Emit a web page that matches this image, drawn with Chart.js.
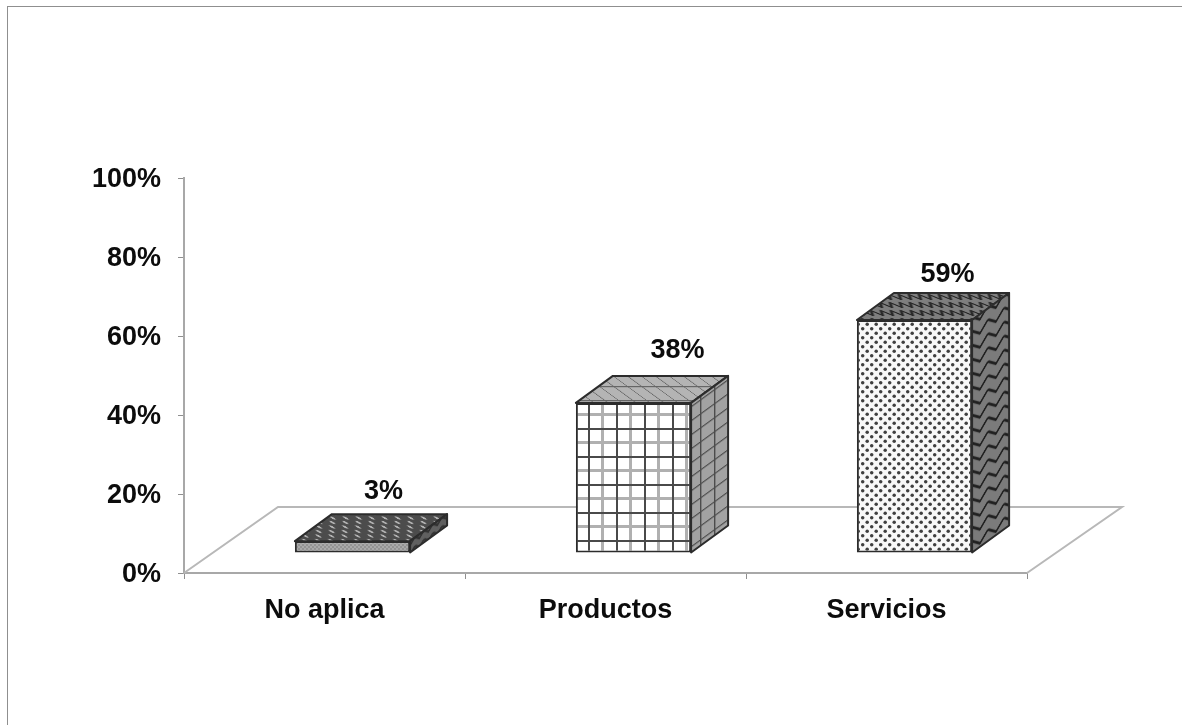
<!DOCTYPE html>
<html lang="es">
<head>
  <meta charset="UTF-8" />
  <title>Gráfica</title>
  <script src="https://cdn.jsdelivr.net/npm/chart.js"></script>
  <style>
    html, body { margin: 0; background: #fff; overflow: hidden; }
    .marco { position: absolute; left: 7px; top: 6px; right: 0; bottom: 0; border-left: 1.5px solid #8f8f8f; border-top: 1.5px solid #8f8f8f; }
    canvas { position: absolute; left: 0; top: 0; filter: blur(0.6px); }
  </style>
</head>
<body>
  <div class="marco"></div>
  <canvas id="grafica" width="1182" height="725" style="width:1182px;height:725px"></canvas>

  <script>
    const categorias = ['No aplica', 'Productos', 'Servicios'];
    const valores = [3, 38, 59];
    const ticksY = [0, 20, 40, 60, 80, 100];

    // small tile used as a hatch fill
    function tile(w, h, fondo, dibujar) {
      const c = document.createElement('canvas');
      c.width = w; c.height = h;
      const g = c.getContext('2d');
      g.fillStyle = fondo;
      g.fillRect(0, 0, w, h);
      dibujar(g);
      return document.createElement('canvas').getContext('2d').createPattern(c, 'repeat');
    }

    function puntos(color, lista, r) {
      return g => {
        g.fillStyle = color;
        lista.forEach(p => { g.beginPath(); g.arc(p[0], p[1], r, 0, 7); g.fill(); });
      };
    }

    function rejilla(fuerte, suave) {
      return g => {
        g.fillStyle = suave;
        g.fillRect(13, 0, 3, 28); g.fillRect(0, 13, 28, 3);
        g.fillStyle = fuerte;
        g.fillRect(0, 0, 2, 28); g.fillRect(0, 0, 28, 2);
      };
    }

    function ondas(color, paso) {
      return g => {
        g.strokeStyle = color; g.lineWidth = 2;
        g.beginPath();
        g.moveTo(0, paso * 0.25); g.lineTo(paso * 0.5, paso * 0.75); g.lineTo(paso, paso * 0.25);
        g.stroke();
      };
    }

    // front faces (one per bar)
    const frentes = [
      tile(4, 4, '#939393', puntos('#d0d0d0', [[1, 1], [3, 3]], 0.7)),
      tile(28, 28, '#ffffff', rejilla('#4a4a4a', '#b0b0b0')),
      tile(9, 9, '#f8f8f8', puntos('#3f3f3f', [[2.2, 2.2], [6.7, 6.7]], 1.75))
    ];
    // top faces
    const techos = [
      tile(13, 9, '#4c4c4c', puntos('#b4b4b4', [[3, 2.5], [9.5, 7]], 1.7)),
      tile(28, 14, '#b4b4b4', g => { g.fillStyle = '#666'; g.fillRect(0, 0, 1.2, 14); g.fillRect(14, 0, 1, 14); g.fillRect(0, 0, 28, 1.2); }),
      tile(10, 8, '#7e7e7e', ondas('#2a2a2a', 10))
    ];
    // side faces
    const lados = [
      tile(9, 9, '#606060', ondas('#333333', 9)),
      tile(14, 14, '#a2a2a2', g => { g.fillStyle = '#4c4c4c'; g.fillRect(0, 0, 1.4, 14); g.fillRect(0, 0, 14, 1.4); }),
      tile(16, 14, '#7b7b7b', ondas('#1e1e1e', 16))
    ];

    const prof = { x: 37, y: -27 };   // depth of the boxes
    const base = { x: 28, y: -20 };   // boxes sit on the floor, not on the axis
    const piso = { x: 94, y: -66 };   // depth of the floor
    const ajusteEtiqueta = [[31, -50], [44, -52], [33, -45]];

    techos.forEach(p => p.setTransform(new DOMMatrix([1, 0, -prof.x / prof.y, 1, 0, 0])));
    lados.forEach(p => p.setTransform(new DOMMatrix([1, prof.y / prof.x, 0, 1, 0, 0])));

    const caja3d = {
      id: 'caja3d',
      beforeDatasetsDraw(chart) {
        const { ctx, chartArea: a } = chart;
        ctx.save();
        ctx.strokeStyle = '#b8b8b8';
        ctx.lineWidth = 2;
        ctx.beginPath();
        ctx.moveTo(a.left, a.bottom);
        ctx.lineTo(a.left + piso.x, a.bottom + piso.y);
        ctx.lineTo(a.right + piso.x + 1, a.bottom + piso.y);
        ctx.lineTo(a.right, a.bottom);
        ctx.stroke();
        ctx.restore();
      },
      beforeDatasetDraw(chart) {
        chart.ctx.save();
        chart.ctx.translate(base.x, base.y);
      },
      afterDatasetDraw(chart) {
        const ctx = chart.ctx;
        chart.getDatasetMeta(0).data.forEach((bar, i) => {
          const izq = bar.x - bar.width / 2, der = bar.x + bar.width / 2;
          ctx.strokeStyle = '#2c2c2c';
          ctx.lineWidth = 2;
          ctx.lineJoin = 'round';
          ctx.beginPath();
          ctx.moveTo(izq, bar.y);
          ctx.lineTo(izq + prof.x, bar.y + prof.y);
          ctx.lineTo(der + prof.x, bar.y + prof.y);
          ctx.lineTo(der, bar.y);
          ctx.closePath();
          ctx.fillStyle = techos[i];
          ctx.fill();
          ctx.stroke();
          ctx.beginPath();
          ctx.moveTo(der, bar.y);
          ctx.lineTo(der + prof.x, bar.y + prof.y);
          ctx.lineTo(der + prof.x, bar.base + prof.y);
          ctx.lineTo(der, bar.base);
          ctx.closePath();
          ctx.fillStyle = lados[i];
          ctx.fill();
          ctx.stroke();
        });
        ctx.restore();
      },
      afterDraw(chart) {
        const ctx = chart.ctx;
        ctx.save();
        ctx.font = 'bold 27px "Liberation Sans"';
        ctx.fillStyle = '#0c0c0c';
        ctx.textAlign = 'center';
        ctx.textBaseline = 'middle';
        chart.getDatasetMeta(0).data.forEach((bar, i) => {
          ctx.fillText(valores[i] + '%',
            bar.x + base.x + ajusteEtiqueta[i][0],
            bar.y + base.y + ajusteEtiqueta[i][1]);
        });
        ctx.restore();
      }
    };

    new Chart(document.getElementById('grafica'), {
      type: 'bar',
      data: {
        labels: categorias,
        datasets: [{
          data: valores,
          backgroundColor: frentes,
          borderColor: '#2c2c2c',
          borderWidth: 2,
          borderSkipped: false,
          barPercentage: 0.41,
          categoryPercentage: 1
        }]
      },
      plugins: [caja3d],
      options: {
        responsive: false,
        animation: false,
        layout: { padding: { left: 84, right: 155, top: 178, bottom: 0 } },
        plugins: { legend: { display: false }, tooltip: { enabled: false } },
        scales: {
          y: {
            min: 0,
            max: 100,
            afterFit(s) { s.width = 100; },
            afterBuildTicks(s) { s.ticks = ticksY.map(v => ({ value: v })); },
            border: { color: '#a8a8a8', width: 2 },
            grid: { drawOnChartArea: false, tickLength: 6, color: '#8f8f8f' },
            ticks: {
              padding: 17,
              labelOffset: 2,
              color: '#0c0c0c',
              font: { family: 'Liberation Sans', weight: 'bold', size: 27 },
              callback: v => v + '%'
            }
          },
          x: {
            afterFit(s) { s.height = 152; },
            border: { color: '#a8a8a8', width: 2 },
            grid: { drawOnChartArea: false, tickLength: 6, color: '#8f8f8f' },
            ticks: {
              padding: 15,
              color: '#0c0c0c',
              maxRotation: 0,
              font: { family: 'Liberation Sans', weight: 'bold', size: 27 }
            }
          }
        }
      }
    });
  </script>
</body>
</html>
